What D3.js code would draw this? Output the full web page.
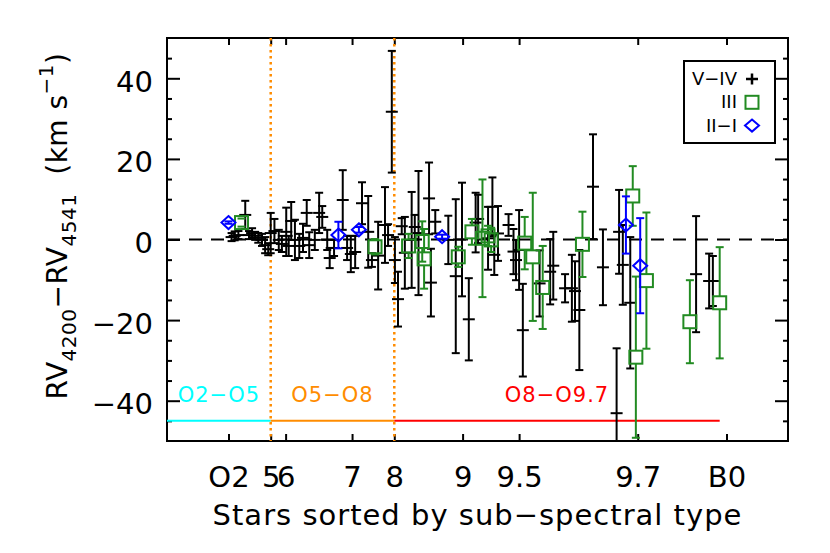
<!DOCTYPE html>
<html>
<head>
<meta charset="utf-8">
<script src="https://cdn.jsdelivr.net/npm/d3@7"></script>
<style>
body { margin: 0; background: #fff; }
text { font-family: "DejaVu Sans", sans-serif; }
</style>
</head>
<body>
<svg id="chart" width="830" height="553"></svg>
<script>
// x axis: stars sorted by sub-spectral type (position along the sequence)
var tickPos = [9.9, 16.7, 19.1, 29.8, 36.6, 47.6, 56.7, 75.8, 90.1];
var tickLabels = ["O2", "5", "6", "7", "8", "9", "9.5", "9.7", "B0"];
var regionNames = ["O2\u2212O5", "O5\u2212O8", "O8\u2212O9.7"];
var regionEdges = [0, 16.7, 36.6, 89.0];

// luminosity class V-IV
var dwarfX = [10.4, 10.9, 11.5, 12.6, 13.2, 13.7, 14.2, 14.7, 15.3, 15.8, 16.3, 16.7, 17.3, 18.0, 18.5, 19.2, 19.6, 20.0, 20.6, 21.3,
              21.9, 22.5, 22.9, 23.8, 24.5, 25.0, 25.8, 26.2, 26.9, 28.3, 29.0, 29.6, 30.3, 31.4, 32.4, 33.0, 34.0, 35.1, 35.6, 36.2,
              36.7, 37.2, 37.8, 38.3, 39.4, 39.9, 40.5, 42.2, 42.5, 43.2, 45.3, 46.5, 47.5, 48.6, 49.7, 50.1, 51.7, 52.4, 52.7, 53.3,
              55.0, 55.8, 56.2, 56.7, 57.3, 60.0, 61.7, 62.2, 64.1, 65.2, 65.7, 66.4, 68.6, 70.2, 72.4, 72.8, 73.4, 74.6, 85.2, 87.3, 87.9];
var dwarfRV = [0.6, 0.9, 1.1, 6.1, 1.1, 1.6, 0.9, 0.4, -0.1, -1.4, -2.4, 1.6, 2.1, -0.1, -1.1, 1.9, -1.6, 4.6, -0.1, -1.6,
               0.4, 6.6, -1.4, -0.1, 6.6, 5.6, -0.1, -4.6, -2.1, 9.8, -2.1, -3.6, -3.1, 9.0, 1.9, -5.1, -4.0, 3.6, 1.1, 31.7,
               -5.1, -14.8, 3.3, -3.3, -0.1, 3.1, 1.6, 10.2, -10.7, 4.4, -0.1, -9.1, 0.0, -19.8, 4.2, 5.1, 0.3, 8.1, -3.8, 1.5,
               3.6, -3.0, -5.1, -2.6, -22.5, -10.9, -8.0, -6.5, -12.1, -12.1, -12.8, -17.5, 13.1, -6.9, -43.1, 1.9, -6.3, -15.7, -8.6, -10.3, -10.3];
var dwarfErr = [1.0, 1.1, 1.0, 3.5, 1.0, 1.2, 1.0, 1.2, 1.5, 2.0, 1.5, 5.0, 3.0, 2.5, 2.0, 6.0, 2.5, 4.7, 5.0, 3.0,
                3.5, 3.2, 3.2, 2.5, 5.0, 2.7, 2.5, 2.5, 2.0, 7.4, 3.0, 4.5, 4.0, 5.2, 8.9, 1.7, 8.4, 9.4, 2.7, 15.1,
                5.7, 6.8, 2.0, 8.9, 11.9, 3.0, 15.4, 8.9, 8.4, 2.9, 6.0, 19.1, 14.1, 10.2, 7.4, 6.0, 7.8, 7.3, 5.0, 6.8,
                2.7, 5.6, 5.0, 9.9, 11.5, 8.2, 8.1, 8.4, 3.5, 8.3, 7.4, 14.9, 13.0, 9.4, 16.1, 10.4, 9.9, 16.3, 14.4, 6.8, 6.2];

// luminosity class III
var giantX = [12.0, 33.5, 38.9, 41.1, 41.4, 46.9, 49.1, 50.8, 51.7, 52.2, 57.6, 58.9, 60.5, 66.9, 75.0, 75.5, 77.2, 84.2, 89.0];
var giantRV = [4.2, -1.8, -1.6, -0.5, -4.8, -4.3, 1.9, 0.3, 0.9, -0.1, -0.9, -4.3, -11.9, -1.2, 10.8, -29.2, -10.2, -20.4, -15.7];
var giantErr = [1.0, 1.9, 3.0, 5.0, 7.4, 2.5, 3.2, 14.6, 2.5, 3.0, 6.5, 15.9, 10.3, 8.1, 7.4, 20.0, 16.9, 10.3, 13.8];

// luminosity class II-I
var superX = [9.9, 27.6, 30.9, 44.3, 73.9, 76.2];
var superRV = [4.2, 1.1, 2.4, 0.7, 3.6, -6.5];
var superErr = [0.3, 3.3, 0.7, 0.5, 7.1, 11.8];

var green = "#228b22", blue = "#0000ff", orange = "#ff8c00";
var regionColors = ["#00ffff", orange, "#ff0000"];

var svg = d3.select("#chart");
var x = d3.scaleLinear().domain([0, 100]).range([167, 788]);
var y = d3.scaleLinear().domain([-50, 50]).range([441, 38]);

svg.append("clipPath").attr("id", "plotclip")
   .append("rect")
   .attr("x", x(0)).attr("y", y(50))
   .attr("width", x(100) - x(0)).attr("height", y(-50) - y(50));

// axes: ticks on all four sides, pointing inward
function styleAxis(g) {
   g.select(".domain").remove();
   g.selectAll(".tick line").attr("stroke", "#000").attr("stroke-width", 2);
   g.selectAll(".tick text").attr("fill", "#000").style("font-size", "29px");
}

var minorVals = d3.range(-45, 50, 5).filter(function(d) { return d % 20 !== 0; });

svg.append("g").attr("transform", "translate(0," + y(-50) + ")")
   .call(d3.axisBottom(x).tickValues(tickPos).tickSizeInner(-7).tickSizeOuter(0)
      .tickFormat(function(d) { return tickLabels[tickPos.indexOf(d)]; }))
   .call(styleAxis)
   .call(function(g) { g.selectAll(".tick text").attr("y", 46).attr("dy", null); });

svg.append("g").attr("transform", "translate(0," + y(50) + ")")
   .call(d3.axisTop(x).tickValues(tickPos).tickSizeInner(-7).tickSizeOuter(0).tickFormat(""))
   .call(styleAxis);

svg.append("g").attr("transform", "translate(" + x(0) + ",0)")
   .call(d3.axisLeft(y).tickValues([-40, -20, 0, 20, 40]).tickSizeInner(-13).tickSizeOuter(0)
      .tickFormat(function(d) { return d < 0 ? "\u2212" + Math.abs(d) : d; }))
   .call(styleAxis)
   .call(function(g) { g.selectAll(".tick text").attr("x", -14).attr("dy", null).attr("y", 13); });

svg.append("g").attr("transform", "translate(" + x(0) + ",0)")
   .call(d3.axisLeft(y).tickValues(minorVals).tickSizeInner(-5).tickSizeOuter(0).tickFormat(""))
   .call(styleAxis);

svg.append("g").attr("transform", "translate(" + x(100) + ",0)")
   .call(d3.axisRight(y).tickValues([-40, -20, 0, 20, 40]).tickSizeInner(-13).tickSizeOuter(0).tickFormat(""))
   .call(styleAxis);

svg.append("g").attr("transform", "translate(" + x(100) + ",0)")
   .call(d3.axisRight(y).tickValues(minorVals).tickSizeInner(-5).tickSizeOuter(0).tickFormat(""))
   .call(styleAxis);

svg.append("rect")
   .attr("x", x(0)).attr("y", y(50))
   .attr("width", x(100) - x(0)).attr("height", y(-50) - y(50))
   .attr("fill", "none").attr("stroke", "#000").attr("stroke-width", 2);

var plot = svg.append("g").attr("clip-path", "url(#plotclip)");

// zero line
plot.append("line")
   .attr("x1", x(0)).attr("x2", x(100)).attr("y1", y(0)).attr("y2", y(0))
   .attr("stroke", "#000").attr("stroke-width", 2).attr("stroke-dasharray", "13,9");

// spectral type boundaries (O5 and O8)
plot.selectAll(".bound").data([regionEdges[1], regionEdges[2]]).enter()
   .append("line")
   .attr("x1", function(d) { return x(d); }).attr("x2", function(d) { return x(d); })
   .attr("y1", y(50)).attr("y2", y(-50))
   .attr("stroke", orange).attr("stroke-width", 2.5).attr("stroke-dasharray", "2.5,3.5");

// region bars and names
regionNames.forEach(function(name, i) {
   plot.append("line")
      .attr("x1", x(regionEdges[i])).attr("x2", x(regionEdges[i + 1]))
      .attr("y1", y(-45)).attr("y2", y(-45))
      .attr("stroke", regionColors[i]).attr("stroke-width", 2);
   svg.append("text")
      .attr("x", x((regionEdges[i] + regionEdges[i + 1]) / 2))
      .attr("y", y(-40) + 1)
      .attr("text-anchor", "middle")
      .attr("fill", regionColors[i])
      .style("font-size", "21px").style("letter-spacing", "1px")
      .text(name);
});

function errorBars(g, xs, vs, es, color, gap) {
   var idx = d3.range(xs.length);
   var lines = [];
   idx.forEach(function(i) {
      var cx = x(xs[i]), top = y(vs[i] + es[i]), bot = y(vs[i] - es[i]), mid = y(vs[i]);
      if (gap > 0) {
         if (mid - gap > top) lines.push([cx, top, cx, mid - gap]);
         if (mid + gap < bot) lines.push([cx, mid + gap, cx, bot]);
      } else {
         lines.push([cx, top, cx, bot]);
      }
      lines.push([cx - 4, top, cx + 4, top]);
      lines.push([cx - 4, bot, cx + 4, bot]);
   });
   g.selectAll(null).data(lines).enter().append("line")
      .attr("x1", function(d) { return d[0]; }).attr("y1", function(d) { return d[1]; })
      .attr("x2", function(d) { return d[2]; }).attr("y2", function(d) { return d[3]; })
      .attr("stroke", color).attr("stroke-width", 2);
}

// V-IV : error bars with plus signs
var gDwarf = plot.append("g");
errorBars(gDwarf, dwarfX, dwarfRV, dwarfErr, "#000", 0);
gDwarf.selectAll(".plus").data(d3.range(dwarfX.length)).enter()
   .append("line")
   .attr("x1", function(i) { return x(dwarfX[i]) - 6; }).attr("x2", function(i) { return x(dwarfX[i]) + 6; })
   .attr("y1", function(i) { return y(dwarfRV[i]); }).attr("y2", function(i) { return y(dwarfRV[i]); })
   .attr("stroke", "#000").attr("stroke-width", 2);

// III : open squares
var gGiant = plot.append("g");
errorBars(gGiant, giantX, giantRV, giantErr, green, 6.5);
gGiant.selectAll(".sq").data(d3.range(giantX.length)).enter()
   .append("rect")
   .attr("x", function(i) { return x(giantX[i]) - 6.5; })
   .attr("y", function(i) { return y(giantRV[i]) - 6.5; })
   .attr("width", 13).attr("height", 13)
   .attr("fill", "none").attr("stroke", green).attr("stroke-width", 2);

// II-I : open diamonds
var gSuper = plot.append("g");
errorBars(gSuper, superX, superRV, superErr, blue, 0);
gSuper.selectAll(".dia").data(d3.range(superX.length)).enter()
   .append("path")
   .attr("d", function(i) {
      var cx = x(superX[i]), cy = y(superRV[i]);
      return "M" + cx + "," + (cy - 6.5) + "L" + (cx + 7) + "," + cy + "L" + cx + "," + (cy + 6.5) + "L" + (cx - 7) + "," + cy + "Z";
   })
   .attr("fill", "none").attr("stroke", blue).attr("stroke-width", 2);

// legend
var leg = svg.append("g");
leg.append("rect").attr("x", 684).attr("y", 61).attr("width", 91).attr("height", 82)
   .attr("fill", "#fff").attr("stroke", "#000").attr("stroke-width", 2);
var legNames = ["V\u2212IV", "III", "II\u2212I"];
legNames.forEach(function(name, i) {
   var by = 85 + i * 23.3, cy = by - 6;
   leg.append("text").attr("x", 737).attr("y", by).attr("text-anchor", "end")
      .style("font-size", "18px").text(name);
   if (i === 0) {
      leg.append("path").attr("d", "M746," + cy + "H758M752," + (cy - 5.5) + "V" + (cy + 5.5))
         .attr("stroke", "#000").attr("stroke-width", 2.5);
   } else if (i === 1) {
      leg.append("rect").attr("x", 745.5).attr("y", cy - 6.5).attr("width", 13).attr("height", 13)
         .attr("fill", "none").attr("stroke", green).attr("stroke-width", 2);
   } else {
      leg.append("path").attr("d", "M752," + (cy - 6) + "L759," + cy + "L752," + (cy + 6) + "L745," + cy + "Z")
         .attr("fill", "none").attr("stroke", blue).attr("stroke-width", 2);
   }
});

// axis titles
svg.append("text")
   .attr("x", (x(0) + x(100)) / 2).attr("y", 525)
   .attr("text-anchor", "middle")
   .style("font-size", "29px").style("letter-spacing", "1px")
   .text("Stars sorted by sub\u2212spectral type");

var ylab = svg.append("text")
   .attr("transform", "translate(67,226) rotate(-90)")
   .attr("text-anchor", "middle")
   .style("font-size", "28px").style("letter-spacing", "0.5px");
ylab.append("tspan").text("RV");
ylab.append("tspan").attr("dy", 9).style("font-size", "20px").text("4200");
ylab.append("tspan").attr("dy", -9).text("\u2212RV");
ylab.append("tspan").attr("dy", 9).style("font-size", "20px").text("4541");
ylab.append("tspan").attr("dy", -9).text("\u00a0\u00a0(km s");
ylab.append("tspan").attr("dy", -14).style("font-size", "20px").text("\u22121");
ylab.append("tspan").attr("dy", 14).text(")");
</script>
</body>
</html>
